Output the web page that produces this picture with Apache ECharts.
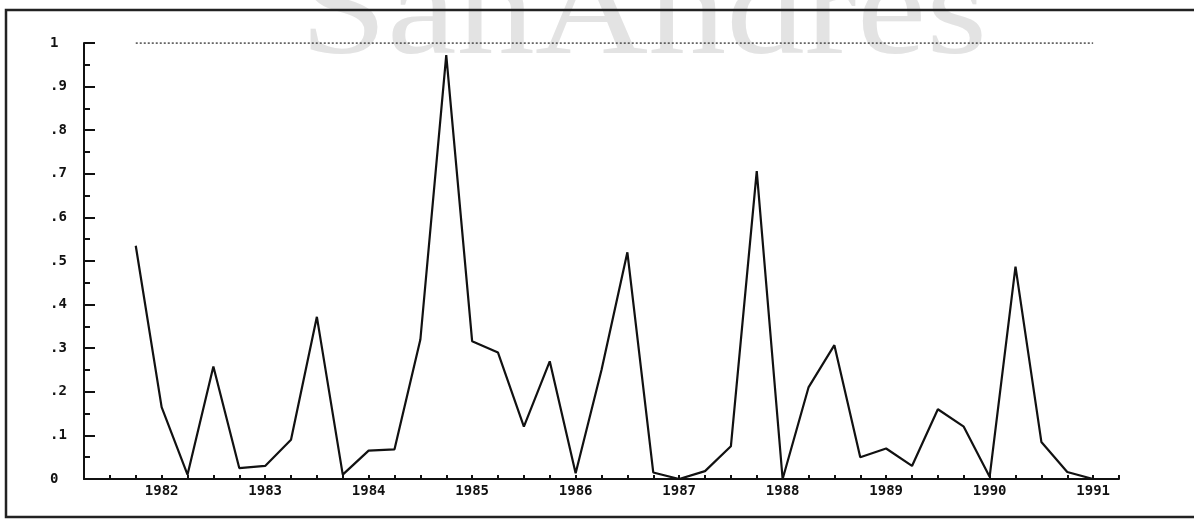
<!DOCTYPE html>
<html>
<head>
<meta charset="utf-8">
<script src="https://cdn.jsdelivr.net/npm/echarts@6/dist/echarts.min.js"></script>
<style>
  html, body { margin: 0; padding: 0; background: #fff; }
  #chart { width: 1194px; height: 520px; }
</style>
</head>
<body>
<div id="chart"></div>
<script>
// quarterly values, first point sits on quarter tick 2
var firstTick = 2;
var values = [
  0.535, 0.165, 0.01, 0.258, 0.025, 0.03, 0.09, 0.372,
  0.01, 0.065, 0.068, 0.32, 0.972, 0.316, 0.29, 0.12,
  0.27, 0.013, 0.25, 0.52, 0.015, 0, 0.018, 0.075,
  0.706, 0, 0.21, 0.307, 0.05, 0.07, 0.03, 0.16,
  0.12, 0.005, 0.487, 0.085, 0.016, 0
];
var years = ['1982', '1983', '1984', '1985', '1986', '1987', '1988', '1989', '1990', '1991'];
var yearFirstTick = 3;
var refLevel = [1, 1];

var lineData = values.map(function (v, i) { return [firstTick + i, v]; });
var lastTick = firstTick + values.length - 1;
var refData = [[firstTick, refLevel[0]], [lastTick, refLevel[1]]];

var labelFont = '"DejaVu Sans Mono", monospace';

var chart = echarts.init(document.getElementById('chart'));
chart.setOption({
  animation: false,
  backgroundColor: '#fff',
  grid: { left: 84, right: 75, top: 43, bottom: 41, containLabel: false },
  xAxis: {
    type: 'value',
    min: 0,
    max: 40,
    interval: 1,
    splitLine: { show: false },
    axisLine: { lineStyle: { color: '#111', width: 2 } },
    axisTick: { inside: true, length: 4, lineStyle: { color: '#111', width: 2 } },
    axisLabel: {
      margin: 5,
      color: '#111',
      fontFamily: labelFont,
      fontWeight: 'bold',
      fontSize: 14,
      formatter: function (v) {
        var k = v - yearFirstTick;
        if (k >= 0 && k % 4 === 0 && years[k / 4]) return years[k / 4];
        return '';
      }
    }
  },
  yAxis: {
    type: 'value',
    min: 0,
    max: 1,
    interval: 0.1,
    splitLine: { show: false },
    axisLine: { show: true, lineStyle: { color: '#111', width: 2 } },
    axisTick: { inside: true, length: 11, lineStyle: { color: '#111', width: 2 } },
    minorTick: { show: true, splitNumber: 2, length: 6, lineStyle: { color: '#111', width: 2 } },
    axisLabel: {
      margin: 34,
      align: 'left',
      color: '#111',
      fontFamily: labelFont,
      fontWeight: 'bold',
      fontSize: 14,
      formatter: function (v) {
        if (v === 0) return '0';
        if (v >= 1) return '1';
        return '.' + Math.round(v * 10);
      }
    }
  },
  series: [
    {
      type: 'line',
      data: refData,
      symbol: 'none',
      lineStyle: { color: '#333', width: 1.5, type: [2, 2] },
      z: 2
    },
    {
      type: 'line',
      data: lineData,
      symbol: 'none',
      lineStyle: { color: '#111', width: 2.2 },
      z: 3
    }
  ],
  graphic: [
    {
      type: 'text',
      x: 300,
      y: 18,
      scaleX: 1.16,
      z: -10,
      silent: true,
      style: {
        text: 'SanAndres',
        font: 'normal 135px "Liberation Serif", serif',
        fill: '#e3e3e3',
        textAlign: 'left',
        verticalAlign: 'middle'
      }
    },
    {
      type: 'rect',
      z: 10,
      silent: true,
      shape: { x: 6, y: 10, width: 1220, height: 507 },
      style: { fill: 'none', stroke: '#222', lineWidth: 2.5 }
    }
  ]
});
</script>
</body>
</html>
